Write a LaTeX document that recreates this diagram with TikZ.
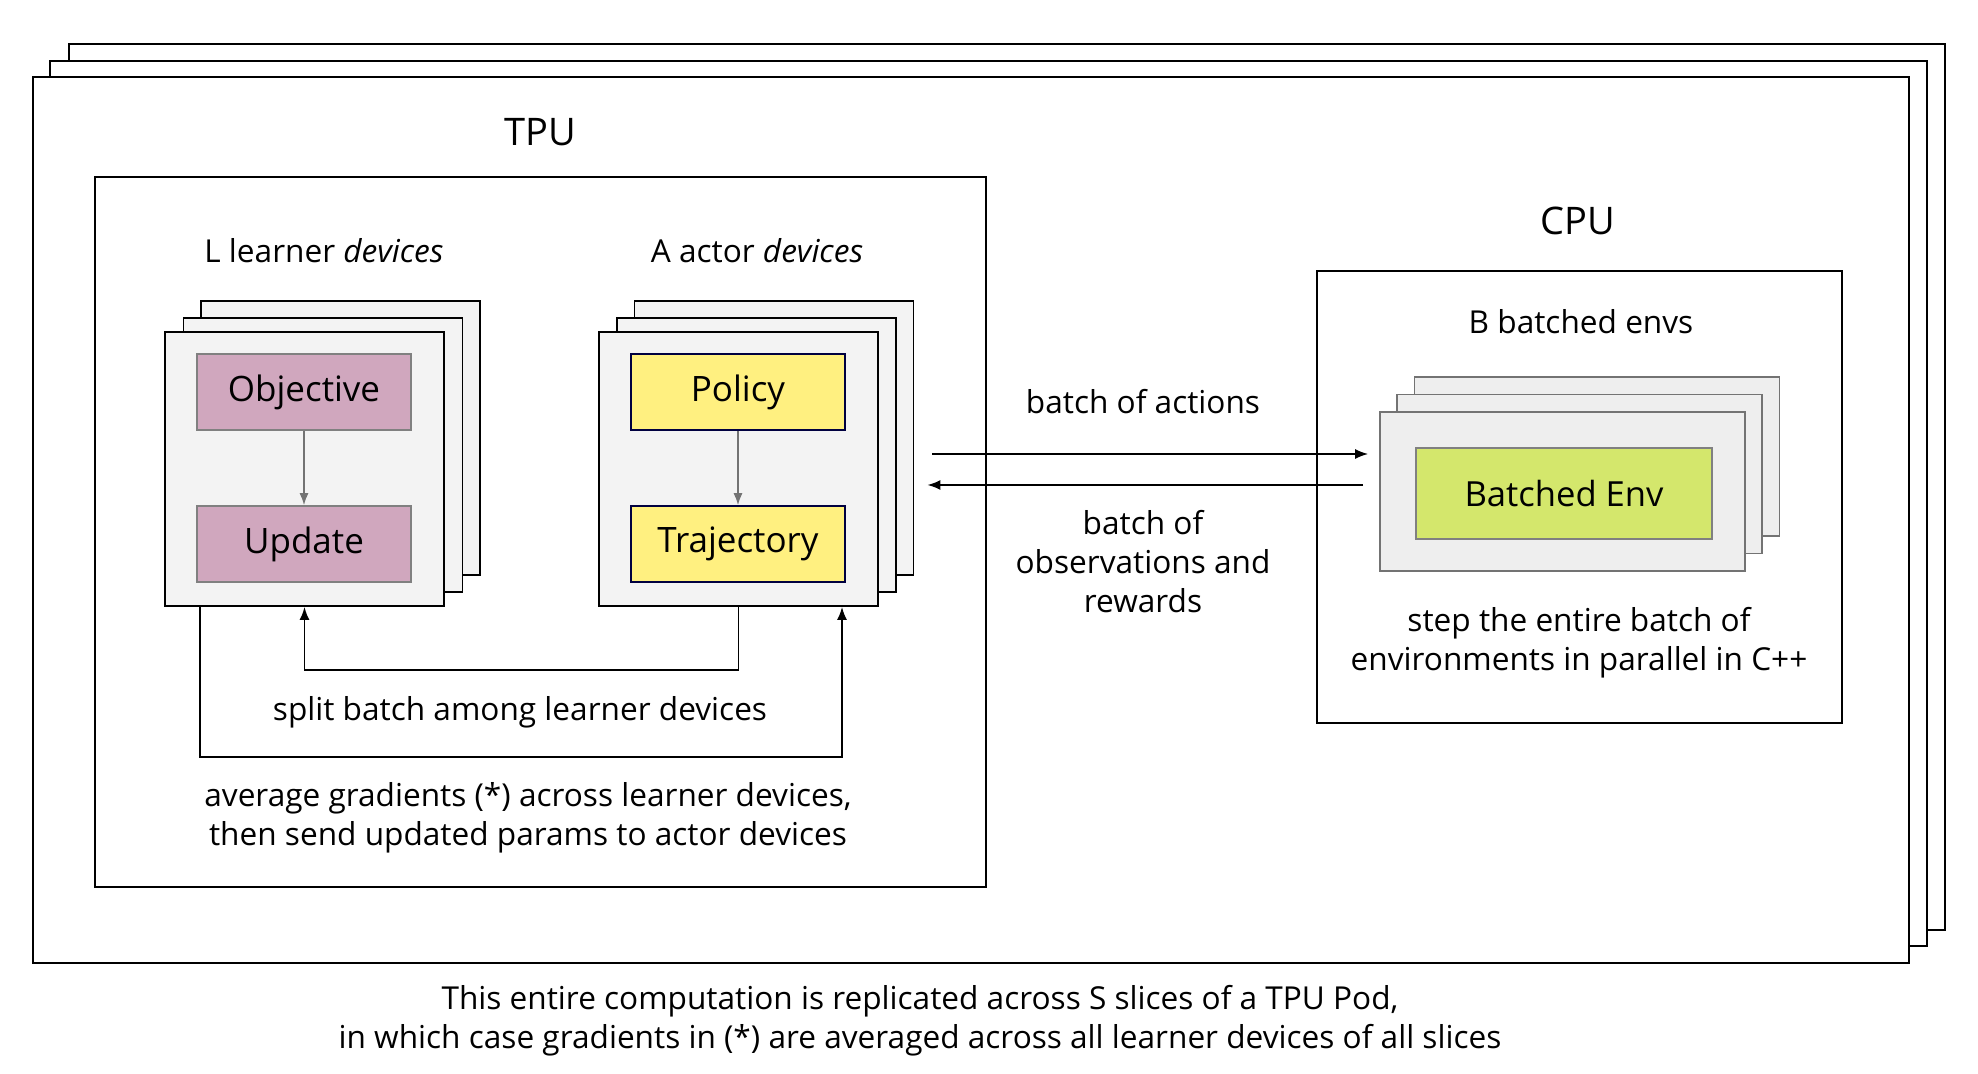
\documentclass[tikz,border=0pt]{standalone}
\usepackage{fontspec}
\setmainfont{Open Sans}
\usetikzlibrary{arrows.meta}

\definecolor{objpink}{HTML}{D0A7BE}
\definecolor{polyellow}{HTML}{FFF080}
\definecolor{envgreen}{HTML}{D4E76C}
\definecolor{stackgray}{HTML}{F3F3F3}
\definecolor{envgray}{HTML}{EEEEEE}

\tikzset{
  podframe/.style={draw, line width=1.2pt, fill=white},
  unitbox/.style={draw, line width=0.8pt, fill=white},
  devbox/.style={draw, line width=0.9pt, fill=stackgray, minimum width=139.5pt, minimum height=137pt},
  envbox/.style={draw=black!55, line width=0.8pt, fill=envgray, minimum width=182.5pt, minimum height=79.5pt},
  learnbox/.style={draw=black!50, line width=0.8pt, fill=objpink, minimum width=107pt, minimum height=38pt, font=\fontsize{17.5}{20}\selectfont},
  actbox/.style={draw=blue!25!black, line width=0.8pt, fill=polyellow, minimum width=107pt, minimum height=38pt, font=\fontsize{17.5}{20}\selectfont},
  title/.style={font=\fontsize{19}{23}\selectfont},
  txt/.style={font=\fontsize{15.8}{19.5}\selectfont, align=center},
  flow/.style={line width=0.9pt, -{Latex[length=6.5pt, width=5pt]}},
  inflow/.style={draw=black!55, line width=0.8pt, -{Latex[length=6pt, width=4.5pt]}}
}

\begin{document}
\begin{tikzpicture}[x=0.5pt, y=-0.5pt]
  \useasboundingbox (0,0) rectangle (1978,1074);

  % 外枠 (S slices)
  \node[podframe, minimum width=938pt, minimum height=443pt] (podC) at (1007,487) {};
  \node[podframe, minimum width=938.5pt, minimum height=442.5pt] (podB) at (988.5,503.5) {};
  \node[podframe, minimum width=938pt, minimum height=443pt] (podA) at (971,520) {};

  % TPU と CPU
  \node[unitbox, minimum width=445.5pt, minimum height=355pt] (tpu) at (540.5,532) {};
  \node[unitbox, minimum width=262.5pt, minimum height=226pt] (cpu) at (1579.5,497) {};
  \node[title] (tpulabel) at (540,132) {TPU};
  \node[title] (cpulabel) at (1578,221) {CPU};

  % デバイス
  \node[devbox] (lback) at (340.5,438) {};
  \node[devbox] (lmid) at (323,455) {};
  \node[devbox] (lfront) at (304.5,469) {};
  \node[devbox] (aback) at (774,438) {};
  \node[devbox] (amid) at (756.5,455) {};
  \node[devbox] (afront) at (738.5,469) {};
  \node[txt] (llabel) at (324,251) {L learner \textit{devices}};
  \node[txt] (alabel) at (757,251) {A actor \textit{devices}};

  \node[learnbox] (obj) at (304,392) {Objective};
  \node[learnbox] (upd) at (304,544) {Update};
  \node[actbox] (pol) at (738,392) {Policy};
  \node[actbox] (traj) at (738,544) {Trajectory};

  % 環境
  \node[envbox] (eback) at (1597,456.5) {};
  \node[envbox] (emid) at (1579.5,474) {};
  \node[envbox] (efront) at (1562.5,491.5) {};
  \node[draw=black!50, line width=0.8pt, fill=envgreen, minimum width=148pt, minimum height=45.5pt,
        font=\fontsize{17.3}{20}\selectfont] (env) at (1564,493.5) {Batched Env};
  \node[txt] (blabel) at (1581,322) {B batched envs};
  \node[txt] (steplabel) at (1579,643) {step the entire batch of\\environments in parallel in C++};

  % エッジを描画
  \draw[inflow] (obj) -- (upd);
  \draw[inflow] (pol) -- (traj);
  \draw[flow] ([shift={(9pt,-8pt)}]aback.east) -- ([shift={(-5.5pt,18.75pt)}]efront.west);
  \draw[flow] ([shift={(-8pt,3.25pt)}]efront.west) -- ([shift={(6.5pt,-23.5pt)}]aback.east);
  \draw[flow] (afront.south) -- ++(0,63) -| (lfront.south);
  \draw[flow] ([xshift=-52.25pt]lfront.south) -- ++(0,150) -| ([xshift=51.75pt]afront.south);

  % ラベル
  \node[txt] (actlabel) at (1143,402) {batch of actions};
  \node[txt] (obslabel) at (1143,562) {batch of\\observations and\\rewards};
  \node[txt] (splitlabel) at (520,712) {split batch among learner devices};
  \node[txt] (avglabel) at (528,818) {average gradients (*) across learner devices,\\then send updated params to actor devices};
  \node[txt] (caption) at (920,1021) {This entire computation is replicated across S slices of a TPU Pod,\\in which case gradients in (*) are averaged across all learner devices of all slices};
\end{tikzpicture}
\end{document}
